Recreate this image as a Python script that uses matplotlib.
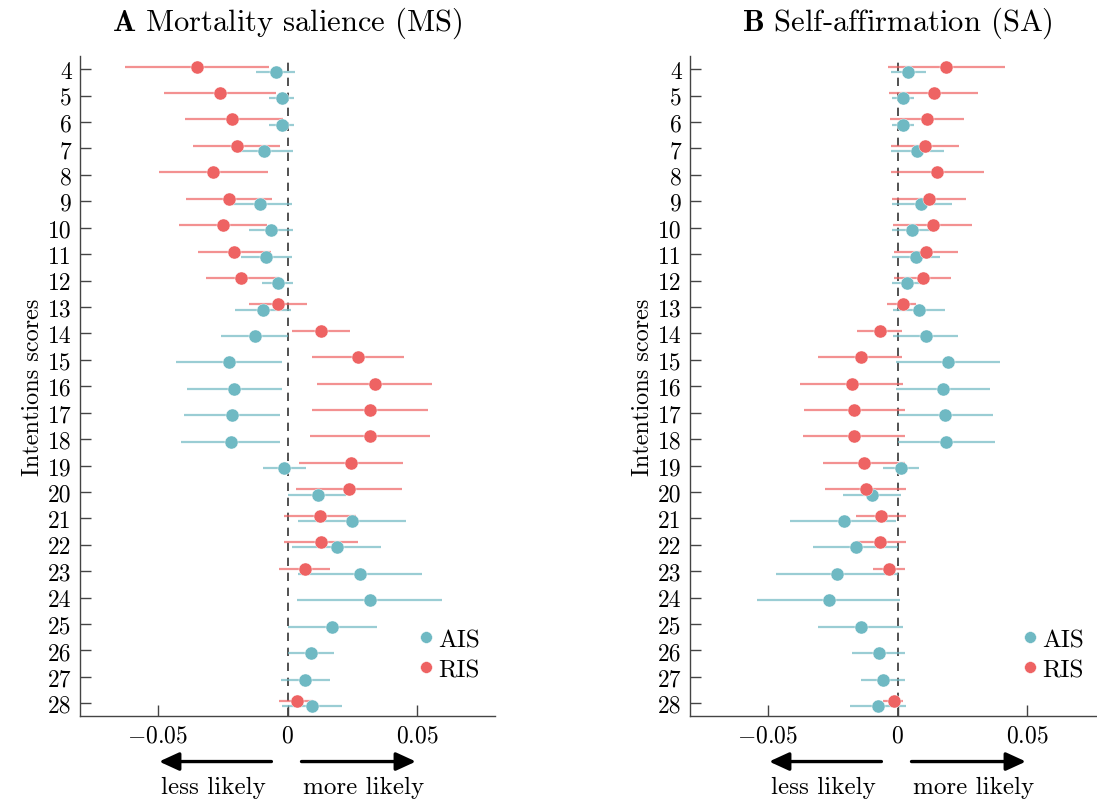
import numpy as np
import matplotlib
matplotlib.use("Agg")
import matplotlib.pyplot as plt

plt.rcParams['font.family'] = ['cmr10', 'DejaVu Serif']
plt.rcParams['mathtext.fontset'] = 'cm'
plt.rcParams['axes.unicode_minus'] = False

nan = np.nan
scores = list(range(4, 29))

# Panel A: Mortality salience
ms_ais = [-0.0046, -0.0023, -0.0022, -0.0090, nan, -0.0106, -0.0063, -0.0081, -0.0038, -0.0095,
          -0.0126, -0.0226, -0.0206, -0.0215, -0.0219, -0.0013, 0.0119, 0.0249, 0.0190, 0.0281,
          0.0318, 0.0171, 0.0090, 0.0069, 0.0094]
ms_ais_lo = [-0.0122, -0.0071, -0.0071, -0.0190, nan, -0.0228, -0.0147, -0.0179, -0.0100, -0.0203,
             -0.0256, -0.0431, -0.0388, -0.0400, -0.0410, -0.0095, 0.0000, 0.0040, 0.0019, 0.0040,
             0.0038, 0.0000, 0.0003, -0.0024, -0.0022]
ms_ais_hi = [0.0028, 0.0026, 0.0026, 0.0022, nan, 0.0018, 0.0022, 0.0018, 0.0022, 0.0015,
             0.0000, -0.0021, -0.0021, -0.0029, -0.0029, 0.0071, 0.0227, 0.0455, 0.0362, 0.0518,
             0.0596, 0.0344, 0.0178, 0.0163, 0.0210]
ms_ris = [-0.0350, -0.0260, -0.0213, -0.0196, -0.0286, -0.0226, -0.0250, -0.0205, -0.0180, -0.0036,
          0.0131, 0.0272, 0.0336, 0.0318, 0.0318, 0.0245, 0.0236, 0.0124, 0.0130, 0.0068,
          nan, nan, nan, nan, 0.0035]
ms_ris_lo = [-0.0626, -0.0476, -0.0394, -0.0363, -0.0494, -0.0392, -0.0420, -0.0346, -0.0314, -0.0147,
             0.0019, 0.0095, 0.0115, 0.0095, 0.0086, 0.0044, 0.0033, -0.0014, -0.0014, -0.0032,
             nan, nan, nan, nan, -0.0033]
ms_ris_hi = [-0.0072, -0.0045, -0.0017, -0.0029, -0.0077, -0.0059, -0.0078, -0.0062, -0.0032, 0.0077,
             0.0241, 0.0449, 0.0556, 0.0540, 0.0550, 0.0445, 0.0440, 0.0263, 0.0273, 0.0164,
             nan, nan, nan, nan, 0.0099]

# Panel B: Self-affirmation
sa_ais = [0.0041, 0.0022, 0.0021, 0.0077, nan, 0.0092, 0.0054, 0.0071, 0.0035, 0.0081,
          0.0108, 0.0194, 0.0176, 0.0183, 0.0187, 0.0013, -0.0100, -0.0208, -0.0160, -0.0233,
          -0.0265, -0.0141, -0.0073, -0.0055, -0.0076]
sa_ais_lo = [-0.0024, -0.0022, -0.0022, -0.0024, nan, -0.0023, -0.0023, -0.0022, -0.0021, -0.0019,
             -0.0017, -0.0006, -0.0004, 0.0000, 0.0000, -0.0056, -0.0210, -0.0413, -0.0324, -0.0469,
             -0.0540, -0.0308, -0.0176, -0.0141, -0.0183]
sa_ais_hi = [0.0108, 0.0063, 0.0063, 0.0179, nan, 0.0209, 0.0144, 0.0162, 0.0099, 0.0185,
             0.0232, 0.0394, 0.0355, 0.0367, 0.0374, 0.0083, 0.0012, -0.0004, 0.0000, 0.0003,
             0.0009, 0.0022, 0.0028, 0.0028, 0.0031]
sa_ris = [0.0187, 0.0141, 0.0114, 0.0106, 0.0154, 0.0122, 0.0136, 0.0110, 0.0097, 0.0021,
          -0.0068, -0.0142, -0.0177, -0.0168, -0.0168, -0.0128, -0.0123, -0.0065, -0.0068, -0.0033,
          nan, nan, nan, nan, -0.0015]
sa_ris_lo = [-0.0037, -0.0032, -0.0028, -0.0026, -0.0024, -0.0021, -0.0018, -0.0014, -0.0013, -0.0040,
             -0.0156, -0.0305, -0.0377, -0.0360, -0.0363, -0.0286, -0.0281, -0.0159, -0.0158, -0.0094,
             nan, nan, nan, nan, -0.0055]
sa_ris_hi = [0.0413, 0.0312, 0.0258, 0.0238, 0.0333, 0.0264, 0.0287, 0.0235, 0.0208, 0.0073,
             0.0019, 0.0019, 0.0022, 0.0027, 0.0028, 0.0029, 0.0033, 0.0031, 0.0032, 0.0028,
             nan, nan, nan, nan, 0.0022]

x_ticks = [-0.05, 0, 0.05]
x_ticklabels = [r'$-0.05$', r'$0$', r'$0.05$']
titles = [r'$\mathbf{A}$ Mortality salience (MS)', r'$\mathbf{B}$ Self-affirmation (SA)']

AIS_COLOR = '#6fb9c3'
RIS_COLOR = '#ee6363'

W, H = 1097, 803
fig = plt.figure(figsize=(W / 100, H / 100), dpi=100)

def frac(l, t, r, b):
    return [l / W, 1 - b / H, (r - l) / W, (b - t) / H]

axA = fig.add_axes(frac(80, 57, 495, 717))
axB = fig.add_axes(frac(690, 57, 1105, 717))

panels = [
    (axA, ms_ais, ms_ais_lo, ms_ais_hi, ms_ris, ms_ris_lo, ms_ris_hi),
    (axB, sa_ais, sa_ais_lo, sa_ais_hi, sa_ris, sa_ris_lo, sa_ris_hi),
]

y = np.array(scores, dtype=float)
off = 0.1
astyle = '-|>,head_length=1.2,head_width=0.55'
for i, (ax, a, alo, ahi, r, rlo, rhi) in enumerate(panels):
    a, alo, ahi = map(np.array, (a, alo, ahi))
    r, rlo, rhi = map(np.array, (r, rlo, rhi))
    ax.axvline(0, color='#333333', ls=(0, (5, 4)), lw=1.2, zorder=1)
    ax.hlines(y + off, alo, ahi, color=AIS_COLOR, lw=1.6, alpha=0.7, zorder=2)
    ax.hlines(y - off, rlo, rhi, color=RIS_COLOR, lw=1.6, alpha=0.7, zorder=2)
    ax.plot(a, y + off, 'o', color=AIS_COLOR, ms=9.4, mec='white', mew=0.3, zorder=3, label='AIS')
    ax.plot(r, y - off, 'o', color=RIS_COLOR, ms=9.4, mec='white', mew=0.3, zorder=3, label='RIS')
    ax.set_xlim(-0.08, 0.08)
    ax.set_ylim(28.48, 3.5)
    ax.set_yticks(scores)
    ax.set_yticklabels([str(s) for s in scores], fontsize=17)
    ax.set_xticks(x_ticks)
    ax.set_xticklabels(x_ticklabels, fontsize=17)
    for s in ['top', 'right']:
        ax.spines[s].set_visible(False)
    for s in ['left', 'bottom']:
        ax.spines[s].set_color('#444444')
        ax.spines[s].set_linewidth(1.0)
    ax.tick_params(direction='in', length=8, width=1.0, color='#444444', pad=6)
    ax.set_ylabel('Intentions scores', fontsize=17.5, labelpad=3)
    ax.set_title(titles[i], fontsize=22, pad=19)
    ax.legend(loc='lower right', bbox_to_anchor=(1.0 if i == 0 else 0.985, 0.03), frameon=False,
              fontsize=18, handletextpad=-0.1, labelspacing=0.3, borderaxespad=0.2,
              handlelength=1.2, markerscale=0.9)
    # arrows
    trans = ax.get_xaxis_transform()
    ax.annotate('', xy=(-0.0495, -0.069), xytext=(-0.0062, -0.069), xycoords=trans, textcoords=trans,
                arrowprops=dict(arrowstyle=astyle, lw=2.4, color='black',
                                shrinkA=0, shrinkB=0), annotation_clip=False)
    ax.annotate('', xy=(0.0495, -0.069), xytext=(0.0054, -0.069), xycoords=trans, textcoords=trans,
                arrowprops=dict(arrowstyle=astyle, lw=2.4, color='black',
                                shrinkA=0, shrinkB=0), annotation_clip=False)
    ax.text(-0.0287, -0.107, 'less likely', transform=trans, ha='center', va='center', fontsize=18)
    ax.text(0.0293, -0.107, 'more likely', transform=trans, ha='center', va='center', fontsize=18)

fig.savefig('out.png', dpi=100)
